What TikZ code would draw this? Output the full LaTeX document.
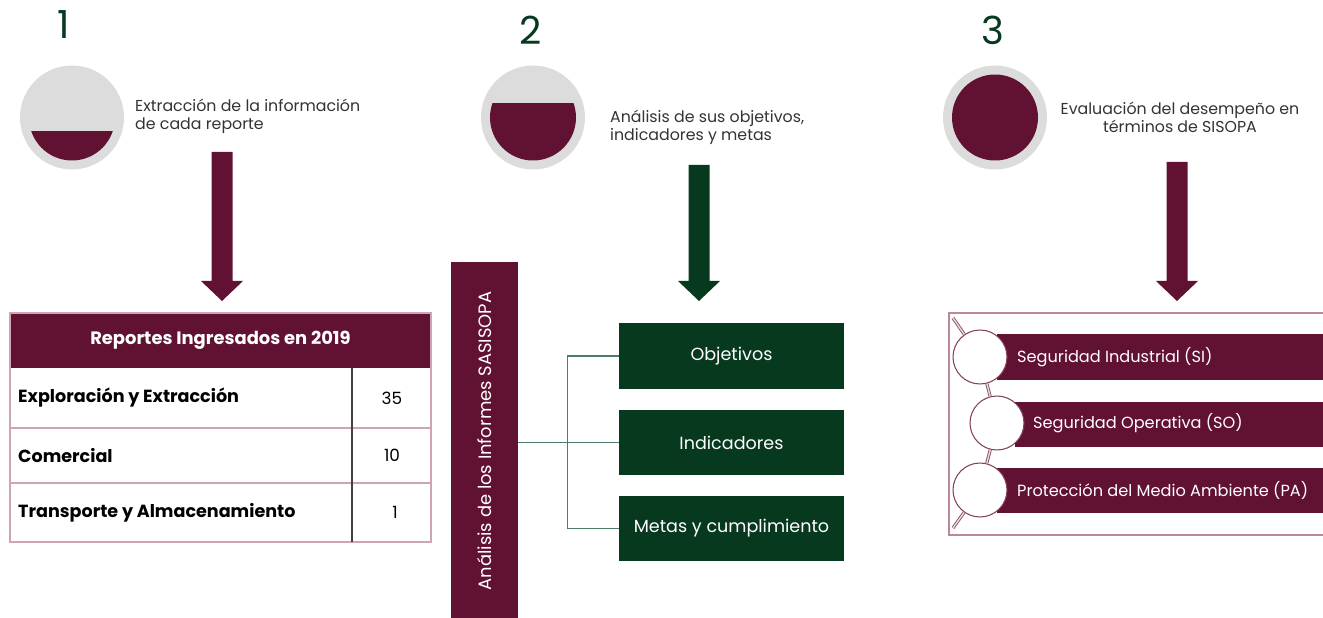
\documentclass[tikz,border=0pt]{standalone}
\usepackage{fontspec}
\setmainfont{Poppins}
\usetikzlibrary{positioning,calc}

\definecolor{guinda}{HTML}{611232}
\definecolor{verde}{HTML}{07391F}
\definecolor{gris}{HTML}{DCDCDC}
\definecolor{rosa}{HTML}{CFA5B4}
\definecolor{linea}{HTML}{4F7D63}

\tikzset{
  numero/.style={text=verde, font=\fontsize{22}{26}\selectfont},
  paso/.style={text=black!80, align=left, font=\fontsize{9}{10.4}\selectfont},
  cajaverde/.style={fill=verde, text=white, minimum width=4.5cm, minimum height=1.32cm,
    font=\fontsize{10}{12}\selectfont},
  fila/.style={anchor=west, font=\bfseries\fontsize{10}{12}\selectfont},
  cifra/.style={font=\fontsize{9.6}{12}\selectfont},
  bola/.style={circle, draw=guinda!80, line width=0.6pt, fill=white, minimum size=1.08cm, inner sep=0pt},
  rubro/.style={anchor=west, text=white, font=\fontsize{9.2}{11}\selectfont},
}

\begin{document}
\begin{tikzpicture}[x=0.02cm, y=-0.02cm]
    \useasboundingbox (0, 0) rectangle (1323, 618);
    % pasos
    \node [numero] (n1) at (64, 25) {1};
    \node [numero] (n2) at (531, 30) {2};
    \node [numero] (n3) at (993, 30) {3};
    \foreach \cx/\nivel in {72/131, 533/103, 995/70}{
        \fill [gris] (\cx, 117.5) circle (1.04cm);
        \begin{scope}
            \clip (\cx, 117.5) circle (0.86cm);
            \fill [guinda] (\cx-50, \nivel) rectangle (\cx+50, 170);
        \end{scope}
    }
    \node [paso, anchor=west] (t1) at (129, 116) {Extracción de la información\\de cada reporte};
    \node [paso, anchor=west] (t2) at (604, 127) {Análisis de sus objetivos,\\indicadores y metas};
    \node [paso, align=center] (t3) at (1180, 117) {Evaluación del desempeño en\\términos de SISOPA};
    % flechas
    \foreach \cx/\arriba/\col in {222/152/guinda, 699/165/verde, 1177/162/guinda}{
        \fill [\col] (\cx-10.5, \arriba) -- (\cx+10.5, \arriba) -- (\cx+10.5, 281) -- (\cx+21, 281)
            -- (\cx, 301) -- (\cx-21, 281) -- (\cx-10.5, 281) -- cycle;
    }
    % tabla
    \fill [guinda] (10, 313) rectangle (431, 368);
    \draw [rosa, line width=0.6pt] (10, 313) rectangle (431, 542);
    \draw [rosa, line width=0.6pt] (10, 428) -- (431, 428);
    \draw [rosa, line width=0.6pt] (10, 483) -- (431, 483);
    \draw [black!75, line width=0.8pt] (352, 368) -- (352, 542);
    \node [text=white, font=\bfseries\fontsize{10.2}{12}\selectfont] (cab) at (220.5, 340.5) {Reportes Ingresados en 2019};
    \node [fila] (f1) at (12, 398) {Exploración y Extracción};
    \node [fila] (f2) at (12, 455.5) {Comercial};
    \node [fila] (f3) at (12, 512.5) {Transporte y Almacenamiento};
    \node [cifra] (c1) at (392, 398) {35};
    \node [cifra] (c2) at (392, 455.5) {10};
    \node [cifra] (c3) at (395, 512.5) {1};
    % informes
    \node [fill=guinda, minimum width=1.34cm, minimum height=7.12cm, inner sep=0pt] (barra) at (484.5, 440) {};
    \node [rotate=90, text=white, font=\fontsize{10.2}{12}\selectfont] (tbarra) at (484.5, 441) {Análisis de los Informes SASISOPA};
    \node [cajaverde] (obj) at (731.5, 356) {Objetivos};
    \node [cajaverde] (ind) at (731.5, 442.5) {Indicadores};
    \node [cajaverde] (met) at (731.5, 528.5) {Metas y cumplimiento};
    \draw [linea, line width=0.7pt] (barra.east |- ind.west) -- (ind.west);
    \draw [linea, line width=0.7pt] (obj.west) -- ++(-51, 0) |- (met.west);
    % SISOPA
    \draw [rosa!80!guinda, line width=0.7pt] (949, 313) rectangle (1340, 535);
    \fill [guinda] (997, 334) rectangle (1340, 380);
    \fill [guinda] (1015, 402) rectangle (1340, 447);
    \fill [guinda] (997, 468) rectangle (1340, 513);
    \node [bola] (si) at (980, 357) {};
    \node [bola] (so) at (997, 423) {};
    \node [bola] (pa) at (980, 490) {};
    \coordinate (esqa) at (953, 318);
    \coordinate (esqb) at (953, 528);
    \draw [guinda!75, double=white!85!guinda, double distance=0.8pt, line width=0.5pt]
        (esqa) -- (si) (si) -- (so) (so) -- (pa) (pa) -- (esqb);
    \node [rubro] (tsi) at (1011, 357) {Seguridad Industrial (SI)};
    \node [rubro] (tso) at (1027, 423) {Seguridad Operativa (SO)};
    \node [rubro] (tpa) at (1011, 490) {Protección del Medio Ambiente (PA)};
\end{tikzpicture}
\end{document}
